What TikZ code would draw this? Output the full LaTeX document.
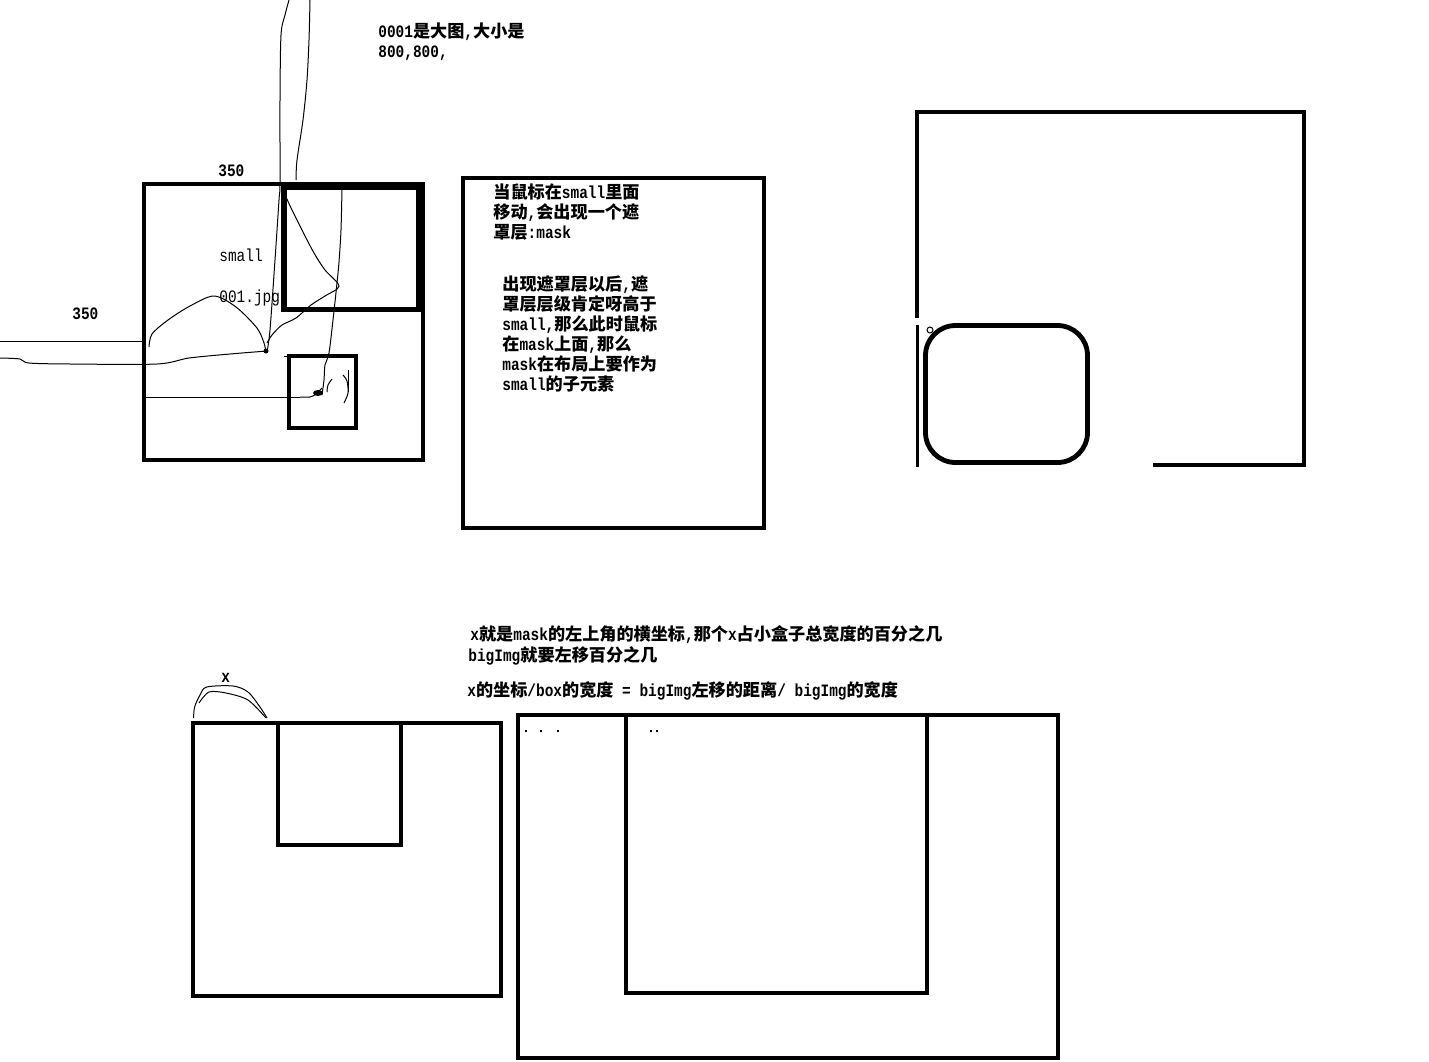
\documentclass[tikz,border=0pt]{standalone}
\usepackage{fontspec}
\setmainfont{Liberation Mono}[FakeStretch=0.83]
\newfontfamily\cjk{Noto Sans CJK SC}[Scale=0.985]
\newcommand\zh[1]{{\cjk #1}}
\tikzset{
  box/.style={draw, line width=2pt},
  thinline/.style={line width=0.5pt},
  txt/.style={anchor=base west, inner sep=0pt, font=\fontsize{8.7}{10}\selectfont\bfseries},
}
\begin{document}
\begin{tikzpicture}[x=0.5pt,y=-0.5pt]
\useasboundingbox (0,0) rectangle (1429,1061);

% ---------- top texts ----------
\node[txt] (t1) at (378,37) {0001\zh{是大图},\zh{大小是}};
\node[txt] (t2) at (378,57) {800,800,};

% ---------- small box group ----------
\draw[box] (144,184) rectangle (423,460);
\draw[draw, line width=2.6pt] (284,187) rectangle (419,309.5);
\draw[box] (289,356) rectangle (356,428);
\node[txt] (n350a) at (218,176) {350};
\node[txt] (n350b) at (72,319) {350};
\node[txt, font=\fontsize{8.7}{10}\selectfont] (small) at (219,261) {small};
\node[txt, font=\fontsize{8.7}{10}\selectfont] (jpg) at (219,302) {001.jpg};

% hand-drawn thin lines
\draw[thinline] plot[smooth] coordinates {(289,0) (285,15) (281,35) (280,100) (280,183) (279,200) (275,260) (270,330) (267,352)};
\draw[thinline] plot[smooth] coordinates {(310,0) (309,40) (307,80) (303,120) (297,160) (296,180)};
\draw[thinline] plot[smooth] coordinates {(342,188) (341,230) (339,262) (337,283) (333,320) (329,353) (325,365) (324,380) (322,395)};
\draw[thinline] plot[smooth] coordinates {(286,197) (292,210) (303,232) (314,253) (325,270) (339,286) (325,296) (311,305) (296,318) (282,325) (272,335) (267,343)};
\draw[thinline] plot[smooth] coordinates {(149,347) (152,334) (168,320) (190,306) (214,296) (236,307) (257,328) (264,343) (266,352)};
\draw[thinline] (0,341) -- (142,341);
\draw[thinline] plot[smooth] coordinates {(0,358) (20,359) (29,363) (71,364) (157,364) (189,358) (230,354) (267,351)};
\fill (266,351) circle (2.5);
\draw[thinline] (146,397) -- (300,397);
\draw[thinline] plot[smooth] coordinates {(300,397) (310,397) (316,394) (322,388)};
\fill (318,393) ellipse (5 and 3);
\draw[thinline] (284,356) -- (289,356);
\draw[thinline] plot[smooth] coordinates {(332,379) (328,385) (327,392)};
\draw[thinline] plot[smooth] coordinates {(343,375) (347,381) (348,393) (344,403)};
\draw[thinline] (348,370) -- (348,392);

% ---------- middle box ----------
\draw[box] (463,178) rectangle (764,528);
\node[txt] (m1) at (493,198) {\zh{当鼠标在}small\zh{里面}};
\node[txt] (m2) at (493,218) {\zh{移动},\zh{会出现一个遮}};
\node[txt] (m3) at (493,238) {\zh{罩层}:mask};
\node[txt] (m4) at (502,290) {\zh{出现遮罩层以后},\zh{遮}};
\node[txt] (m5) at (502,310) {\zh{罩层层级肯定呀高于}};
\node[txt] (m6) at (502,330) {small,\zh{那么此时鼠标}};
\node[txt] (m7) at (502,350) {\zh{在}mask\zh{上面},\zh{那么}};
\node[txt] (m8) at (502,370) {mask\zh{在布局上要作为}};
\node[txt] (m9) at (502,390) {small\zh{的子元素}};

% ---------- right box ----------
\draw[box] (1153,465) -- (1304,465) -- (1304,112) -- (917,112) -- (917,318);
\draw[line width=1.8pt] (917.5,325) -- (917.5,467);
\draw[draw, line width=2.4pt, rounded corners=15] (925.5,325.5) rectangle (1087.5,462.5);
\draw[thinline] (930,330) circle (3);

% ---------- bottom left box ----------
\draw[box] (193,722.5) rectangle (501,996);
\draw[box] (278,722.5) rectangle (400.5,845);
\node[txt] (x) at (221,682) {x};
\draw[thinline] plot[smooth] coordinates {(193.6,718) (194.6,707) (200,695) (206.7,687) (233,686) (248,692) (260,707) (267,718)};
\draw[thinline] plot[smooth] coordinates {(199,703) (209,692) (226,693) (248,700) (266,718)};

% ---------- bottom texts ----------
\node[txt] (b1) at (470,640) {x\zh{就是}mask\zh{的左上角的横坐标},\zh{那个}x\zh{占小盒子总宽度的百分之几}};
\node[txt] (b2) at (468,661) {bigImg\zh{就要左移百分之几}};
\node[txt] (b3) at (467,696) {x\zh{的坐标}/box\zh{的宽度} = bigImg\zh{左移的距离}/ bigImg\zh{的宽度}};

% ---------- bottom right box ----------
\draw[box] (518,714.5) rectangle (1058,1058);
\draw[box] (626,714.5) rectangle (927,993);
\foreach \px in {519,526,541,558,651,657} \fill (\px-1,730) rectangle (\px+1,732);
\end{tikzpicture}
\end{document}
